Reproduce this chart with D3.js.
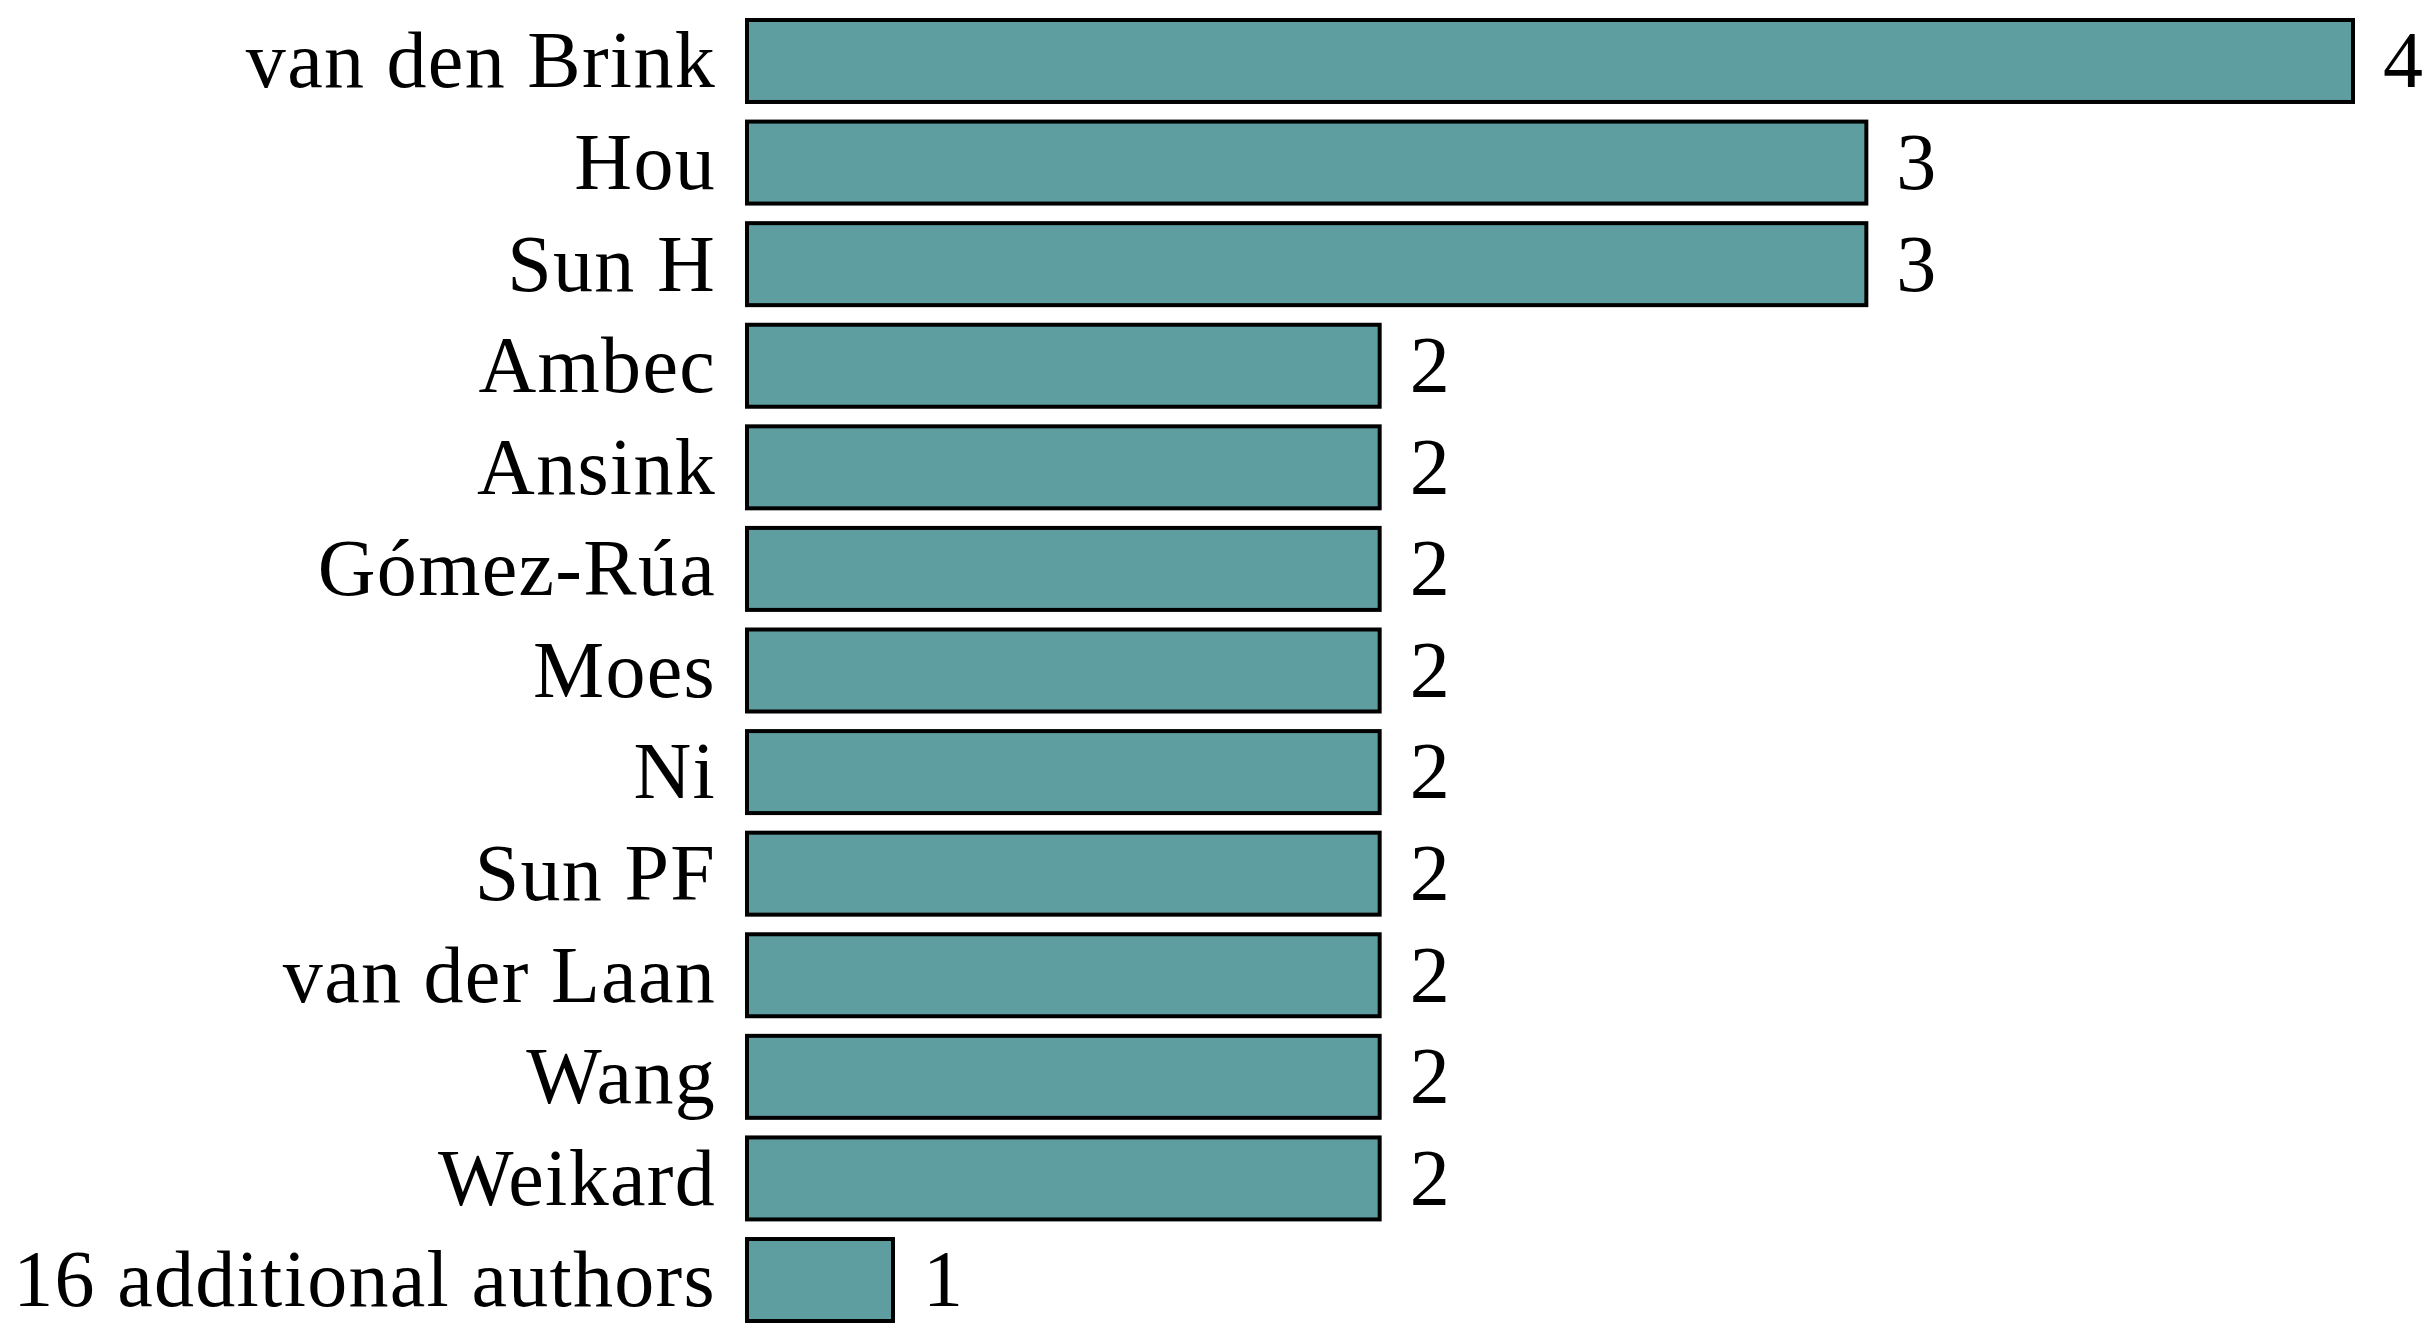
<!DOCTYPE html>
<html>
<head>
<meta charset="utf-8">
<script src="https://cdn.jsdelivr.net/npm/d3@7"></script>
<style>
  html, body { margin: 0; padding: 0; background: #fff; }
  svg text { font-family: "Liberation Serif", "DejaVu Serif", serif; fill: #000; }
</style>
</head>
<body>
<div id="chart"></div>
<script>
// author counts, top to bottom
const authors = [
  "van den Brink", "Hou", "Sun H", "Ambec", "Ansink", "Gómez-Rúa",
  "Moes", "Ni", "Sun PF", "van der Laan", "Wang", "Weikard",
  "16 additional authors"
];
const counts = [4, 3, 3, 2, 2, 2, 2, 2, 2, 2, 2, 2, 1];

const width = 2436, height = 1336;

const svg = d3.select("#chart")
  .append("svg")
  .attr("width", width)
  .attr("height", height);

// the axis starts a bit below 1, so the "1" bar is short
const x = d3.scaleLinear().domain([0.7, 4]).range([747, 2353]);

const y = d3.scaleBand()
  .domain(authors)
  .range([20, 1321])
  .paddingInner(0.193)
  .paddingOuter(0);

const data = authors.map((a, i) => ({ name: a, value: counts[i] }));

// bars
svg.selectAll("rect.bar")
  .data(data)
  .join("rect")
  .attr("class", "bar")
  .attr("x", x(0.7))
  .attr("y", d => y(d.name))
  .attr("width", d => x(d.value) - x(0.7))
  .attr("height", y.bandwidth())
  .attr("fill", "#5f9ea0")
  .attr("stroke", "#000")
  .attr("stroke-width", 4);

// category labels on the left
svg.selectAll("text.name")
  .data(data)
  .join("text")
  .attr("class", "name")
  .attr("x", x(0.7) - 31)
  .attr("y", d => y(d.name) + y.bandwidth() / 2)
  .attr("dy", "0.33em")
  .attr("text-anchor", "end")
  .attr("font-size", 80)
  .attr("letter-spacing", 1.3)
  .text(d => d.name);

// value labels at bar end
svg.selectAll("text.val")
  .data(data)
  .join("text")
  .attr("class", "val")
  .attr("x", d => x(d.value) + 30)
  .attr("y", d => y(d.name) + y.bandwidth() / 2)
  .attr("dy", "0.33em")
  .attr("font-size", 80)
  .text(d => d.value);
</script>
</body>
</html>
